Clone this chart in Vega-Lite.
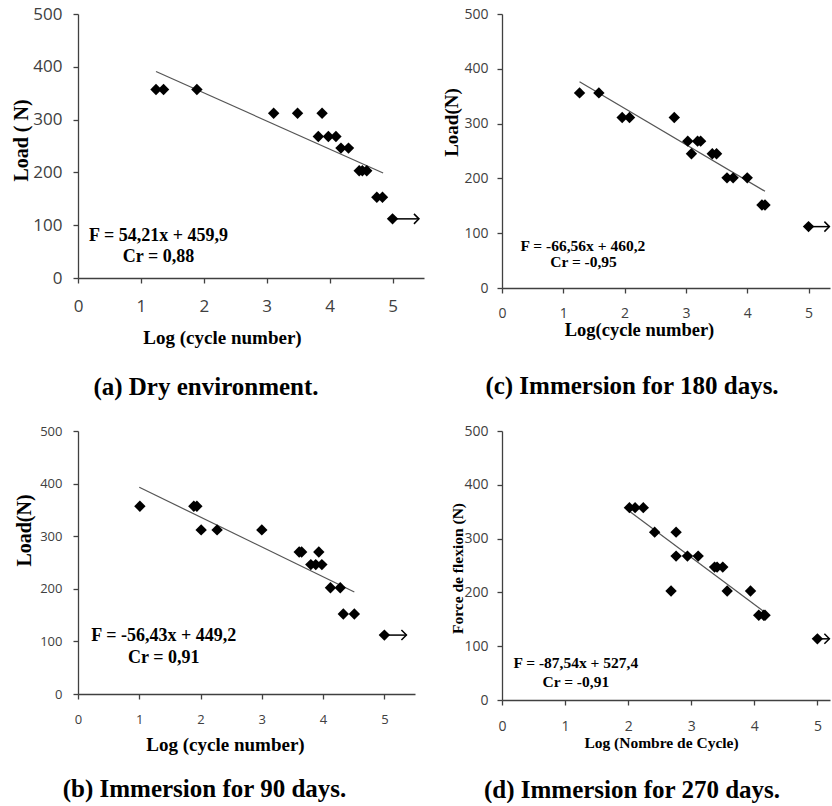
{
  "$schema": "https://vega.github.io/schema/vega-lite/v6.json",
  "background": "white",
  "padding": {"left": 11, "top": 5, "right": 0, "bottom": 0},
  "bounds": "flush",
  "columns": 2,
  "spacing": {"row": 143, "column": 78},
  "config": {
    "view": {"stroke": null},
    "axis": {"domainColor": "#404040", "tickColor": "#404040", "labelColor": "#404040", "labelFont": "Open Sans", "titleFont": "Liberation Serif", "titleFontWeight": "bold", "titleColor": "black", "grid": false, "domainWidth": 1.3, "tickWidth": 1.3, "tickSize": 5, "labelFlush": false},
    "title": {"font": "Liberation Serif", "fontWeight": "bold", "fontSize": 25, "color": "black", "orient": "bottom"}
  },
  "datasets": {
    "a": [
      {"k": "pt", "x": 1.24, "y": 357}, {"k": "pt", "x": 1.36, "y": 357}, {"k": "pt", "x": 1.89, "y": 357},
      {"k": "pt", "x": 3.11, "y": 312}, {"k": "pt", "x": 3.49, "y": 312}, {"k": "pt", "x": 3.88, "y": 312},
      {"k": "pt", "x": 3.82, "y": 268}, {"k": "pt", "x": 3.98, "y": 268}, {"k": "pt", "x": 4.10, "y": 268},
      {"k": "pt", "x": 4.18, "y": 246}, {"k": "pt", "x": 4.30, "y": 246},
      {"k": "pt", "x": 4.47, "y": 203}, {"k": "pt", "x": 4.52, "y": 203}, {"k": "pt", "x": 4.59, "y": 203},
      {"k": "pt", "x": 4.75, "y": 153}, {"k": "pt", "x": 4.84, "y": 153}, {"k": "pt", "x": 5.0, "y": 112},
      {"k": "fit", "x": 1.24, "y": 391}, {"k": "fit", "x": 4.85, "y": 199},
      {"k": "arr", "x": 5.0, "y": 112}, {"k": "arr", "x": 5.42, "y": 112},
      {"k": "head", "x": 5.42, "y": 112},
      {"k": "txt", "x": 1.28, "y": 80, "t": "F = 54,21x + 459,9"},
      {"k": "txt", "x": 1.28, "y": 40, "t": "Cr = 0,88"}
    ],
    "c": [
      {"k": "pt", "x": 1.265, "y": 356}, {"k": "pt", "x": 1.58, "y": 356},
      {"k": "pt", "x": 1.96, "y": 311}, {"k": "pt", "x": 2.08, "y": 311}, {"k": "pt", "x": 2.81, "y": 311},
      {"k": "pt", "x": 3.03, "y": 268}, {"k": "pt", "x": 3.19, "y": 268}, {"k": "pt", "x": 3.24, "y": 268},
      {"k": "pt", "x": 3.09, "y": 245}, {"k": "pt", "x": 3.43, "y": 245}, {"k": "pt", "x": 3.50, "y": 245},
      {"k": "pt", "x": 3.67, "y": 201}, {"k": "pt", "x": 3.77, "y": 201}, {"k": "pt", "x": 4.00, "y": 201},
      {"k": "pt", "x": 4.24, "y": 151.5}, {"k": "pt", "x": 4.29, "y": 151.5}, {"k": "pt", "x": 5.0, "y": 112},
      {"k": "fit", "x": 1.265, "y": 376.5}, {"k": "fit", "x": 4.29, "y": 176.4},
      {"k": "arr", "x": 5.0, "y": 112}, {"k": "arr", "x": 5.34, "y": 112},
      {"k": "head", "x": 5.34, "y": 112},
      {"k": "txt", "x": 1.32, "y": 77, "t": "F = -66,56x + 460,2"},
      {"k": "txt", "x": 1.33, "y": 47, "t": "Cr = -0,95"}
    ],
    "b": [
      {"k": "pt", "x": 1.01, "y": 357}, {"k": "pt", "x": 1.89, "y": 357}, {"k": "pt", "x": 1.94, "y": 357},
      {"k": "pt", "x": 2.01, "y": 312}, {"k": "pt", "x": 2.27, "y": 312}, {"k": "pt", "x": 3.00, "y": 312},
      {"k": "pt", "x": 3.61, "y": 270}, {"k": "pt", "x": 3.65, "y": 270}, {"k": "pt", "x": 3.93, "y": 270},
      {"k": "pt", "x": 3.80, "y": 246}, {"k": "pt", "x": 3.88, "y": 246}, {"k": "pt", "x": 3.98, "y": 246},
      {"k": "pt", "x": 4.12, "y": 202}, {"k": "pt", "x": 4.28, "y": 202},
      {"k": "pt", "x": 4.33, "y": 152}, {"k": "pt", "x": 4.51, "y": 152}, {"k": "pt", "x": 5.0, "y": 112},
      {"k": "fit", "x": 1.0, "y": 393}, {"k": "fit", "x": 4.51, "y": 194},
      {"k": "arr", "x": 5.0, "y": 112}, {"k": "arr", "x": 5.36, "y": 112},
      {"k": "head", "x": 5.36, "y": 112},
      {"k": "txt", "x": 1.40, "y": 111, "t": "F = -56,43x + 449,2"},
      {"k": "txt", "x": 1.40, "y": 68, "t": "Cr = 0,91"}
    ],
    "d": [
      {"k": "pt", "x": 2.02, "y": 357.5}, {"k": "pt", "x": 2.11, "y": 357.5}, {"k": "pt", "x": 2.24, "y": 357.5},
      {"k": "pt", "x": 2.42, "y": 312}, {"k": "pt", "x": 2.76, "y": 312},
      {"k": "pt", "x": 2.76, "y": 267.5}, {"k": "pt", "x": 2.94, "y": 267.5}, {"k": "pt", "x": 3.11, "y": 267.5},
      {"k": "pt", "x": 3.37, "y": 247}, {"k": "pt", "x": 3.41, "y": 247}, {"k": "pt", "x": 3.50, "y": 247},
      {"k": "pt", "x": 2.68, "y": 202.5}, {"k": "pt", "x": 3.57, "y": 202.5}, {"k": "pt", "x": 3.94, "y": 202.5},
      {"k": "pt", "x": 4.07, "y": 157.5}, {"k": "pt", "x": 4.15, "y": 157.5}, {"k": "pt", "x": 4.17, "y": 157.5},
      {"k": "pt", "x": 5.0, "y": 113.7},
      {"k": "fit", "x": 2.02, "y": 351}, {"k": "fit", "x": 4.14, "y": 165.6},
      {"k": "arr", "x": 5.0, "y": 113.7}, {"k": "arr", "x": 5.19, "y": 113.7},
      {"k": "head", "x": 5.19, "y": 113.7},
      {"k": "txt", "x": 1.17, "y": 68, "t": "F = -87,54x + 527,4"},
      {"k": "txt", "x": 1.17, "y": 34, "t": "Cr = -0,91"}
    ]
  },
  "concat": [
    {
      "width": 346, "height": 264,
      "title": {"text": "(a) Dry environment.", "dx": -45, "offset": 28},
      "data": {"name": "a"},
      "encoding": {
        "x": {"field": "x", "type": "quantitative", "scale": {"domain": [0, 5.5], "nice": false}, "axis": {"title": "Log (cycle number)", "values": [0, 1, 2, 3, 4, 5], "format": "d", "labelFontSize": 17, "labelPadding": 15, "titleFontSize": 19, "titleX": 144, "titleY": 59, "titleBaseline": "middle"}},
        "y": {"field": "y", "type": "quantitative", "scale": {"domain": [0, 500], "nice": false}, "axis": {"title": "Load ( N)", "values": [0, 100, 200, 300, 400, 500], "labelFontSize": 17, "labelPadding": 11, "titleFontSize": 20, "titleX": -57, "titleY": 126, "titleBaseline": "middle"}}
      },
      "layer": [
        {"transform": [{"filter": "datum.k == 'fit'"}], "mark": {"type": "line", "color": "#555555", "strokeWidth": 1.2}},
        {"transform": [{"filter": "datum.k == 'arr'"}], "mark": {"type": "line", "color": "black", "strokeWidth": 1.5}},
        {"transform": [{"filter": "datum.k == 'head'"}], "mark": {"type": "point", "shape": "M-1,-1L0,0L-1,1", "filled": false, "color": "black", "strokeWidth": 1.5, "size": 100, "opacity": 1}},
        {"transform": [{"filter": "datum.k == 'pt'"}], "mark": {"type": "point", "shape": "diamond", "filled": true, "color": "black", "size": 130, "opacity": 1}},
        {"transform": [{"filter": "datum.k == 'txt'"}], "mark": {"type": "text", "font": "Liberation Serif", "fontWeight": "bold", "fontSize": 18, "align": "center", "baseline": "middle", "color": "black"}, "encoding": {"text": {"field": "t"}}}
      ]
    },
    {
      "width": 328, "height": 274,
      "title": {"text": "(c) Immersion for 180 days.", "dx": -34, "offset": 35},
      "data": {"name": "c"},
      "encoding": {
        "x": {"field": "x", "type": "quantitative", "scale": {"domain": [0, 5.35], "nice": false}, "axis": {"title": "Log(cycle number)", "values": [0, 1, 2, 3, 4, 5], "format": "d", "labelFontSize": 14, "labelPadding": 13, "titleFontSize": 18.5, "titleX": 137, "titleY": 41, "titleBaseline": "middle"}},
        "y": {"field": "y", "type": "quantitative", "scale": {"domain": [0, 500], "nice": false}, "axis": {"title": "Load(N)", "values": [0, 100, 200, 300, 400, 500], "labelFontSize": 14, "labelPadding": 9, "titleFontSize": 19, "titleX": -51, "titleY": 108, "titleBaseline": "middle"}}
      },
      "layer": [
        {"transform": [{"filter": "datum.k == 'fit'"}], "mark": {"type": "line", "color": "#555555", "strokeWidth": 1.2}},
        {"transform": [{"filter": "datum.k == 'arr'"}], "mark": {"type": "line", "color": "black", "strokeWidth": 1.5}},
        {"transform": [{"filter": "datum.k == 'head'"}], "mark": {"type": "point", "shape": "M-1,-1L0,0L-1,1", "filled": false, "color": "black", "strokeWidth": 1.5, "size": 100, "opacity": 1}},
        {"transform": [{"filter": "datum.k == 'pt'"}], "mark": {"type": "point", "shape": "diamond", "filled": true, "color": "black", "size": 130, "opacity": 1}},
        {"transform": [{"filter": "datum.k == 'txt'"}], "mark": {"type": "text", "font": "Liberation Serif", "fontWeight": "bold", "fontSize": 15.5, "align": "center", "baseline": "middle", "color": "black"}, "encoding": {"text": {"field": "t"}}}
      ]
    },
    {
      "width": 337, "height": 263,
      "title": {"text": "(b) Immersion for 90 days.", "dx": -42, "offset": 23},
      "data": {"name": "b"},
      "encoding": {
        "x": {"field": "x", "type": "quantitative", "scale": {"domain": [0, 5.5], "nice": false}, "axis": {"title": "Log (cycle number)", "values": [0, 1, 2, 3, 4, 5], "format": "d", "labelFontSize": 13, "labelPadding": 14, "titleFontSize": 19, "titleX": 147, "titleY": 50, "titleBaseline": "middle"}},
        "y": {"field": "y", "type": "quantitative", "scale": {"domain": [0, 500], "nice": false}, "axis": {"title": "Load(N)", "values": [0, 100, 200, 300, 400, 500], "labelFontSize": 13, "labelPadding": 11, "titleFontSize": 20, "titleX": -54, "titleY": 99, "titleBaseline": "middle"}}
      },
      "layer": [
        {"transform": [{"filter": "datum.k == 'fit'"}], "mark": {"type": "line", "color": "#555555", "strokeWidth": 1.2}},
        {"transform": [{"filter": "datum.k == 'arr'"}], "mark": {"type": "line", "color": "black", "strokeWidth": 1.5}},
        {"transform": [{"filter": "datum.k == 'head'"}], "mark": {"type": "point", "shape": "M-1,-1L0,0L-1,1", "filled": false, "color": "black", "strokeWidth": 1.5, "size": 100, "opacity": 1}},
        {"transform": [{"filter": "datum.k == 'pt'"}], "mark": {"type": "point", "shape": "diamond", "filled": true, "color": "black", "size": 130, "opacity": 1}},
        {"transform": [{"filter": "datum.k == 'txt'"}], "mark": {"type": "text", "font": "Liberation Serif", "fontWeight": "bold", "fontSize": 18, "align": "center", "baseline": "middle", "color": "black"}, "encoding": {"text": {"field": "t"}}}
      ]
    },
    {
      "width": 328, "height": 269,
      "title": {"text": "(d) Immersion for 270 days.", "dx": -34, "offset": 27},
      "data": {"name": "d"},
      "encoding": {
        "x": {"field": "x", "type": "quantitative", "scale": {"domain": [0, 5.2], "nice": false}, "axis": {"title": "Log (Nombre de Cycle)", "values": [0, 1, 2, 3, 4, 5], "format": "d", "labelFontSize": 14, "labelPadding": 14, "titleFontSize": 15.5, "titleX": 159, "titleY": 42, "titleBaseline": "middle"}},
        "y": {"field": "y", "type": "quantitative", "scale": {"domain": [0, 500], "nice": false}, "axis": {"title": "Force de flexion (N)", "values": [0, 100, 200, 300, 400, 500], "labelFontSize": 14, "labelPadding": 9, "titleFontSize": 15.5, "titleX": -45, "titleY": 137, "titleBaseline": "middle"}}
      },
      "layer": [
        {"transform": [{"filter": "datum.k == 'fit'"}], "mark": {"type": "line", "color": "#555555", "strokeWidth": 1.2}},
        {"transform": [{"filter": "datum.k == 'arr'"}], "mark": {"type": "line", "color": "black", "strokeWidth": 1.5}},
        {"transform": [{"filter": "datum.k == 'head'"}], "mark": {"type": "point", "shape": "M-1,-1L0,0L-1,1", "filled": false, "color": "black", "strokeWidth": 1.5, "size": 100, "opacity": 1}},
        {"transform": [{"filter": "datum.k == 'pt'"}], "mark": {"type": "point", "shape": "diamond", "filled": true, "color": "black", "size": 130, "opacity": 1}},
        {"transform": [{"filter": "datum.k == 'txt'"}], "mark": {"type": "text", "font": "Liberation Serif", "fontWeight": "bold", "fontSize": 15.5, "align": "center", "baseline": "middle", "color": "black"}, "encoding": {"text": {"field": "t"}}}
      ]
    }
  ]
}
